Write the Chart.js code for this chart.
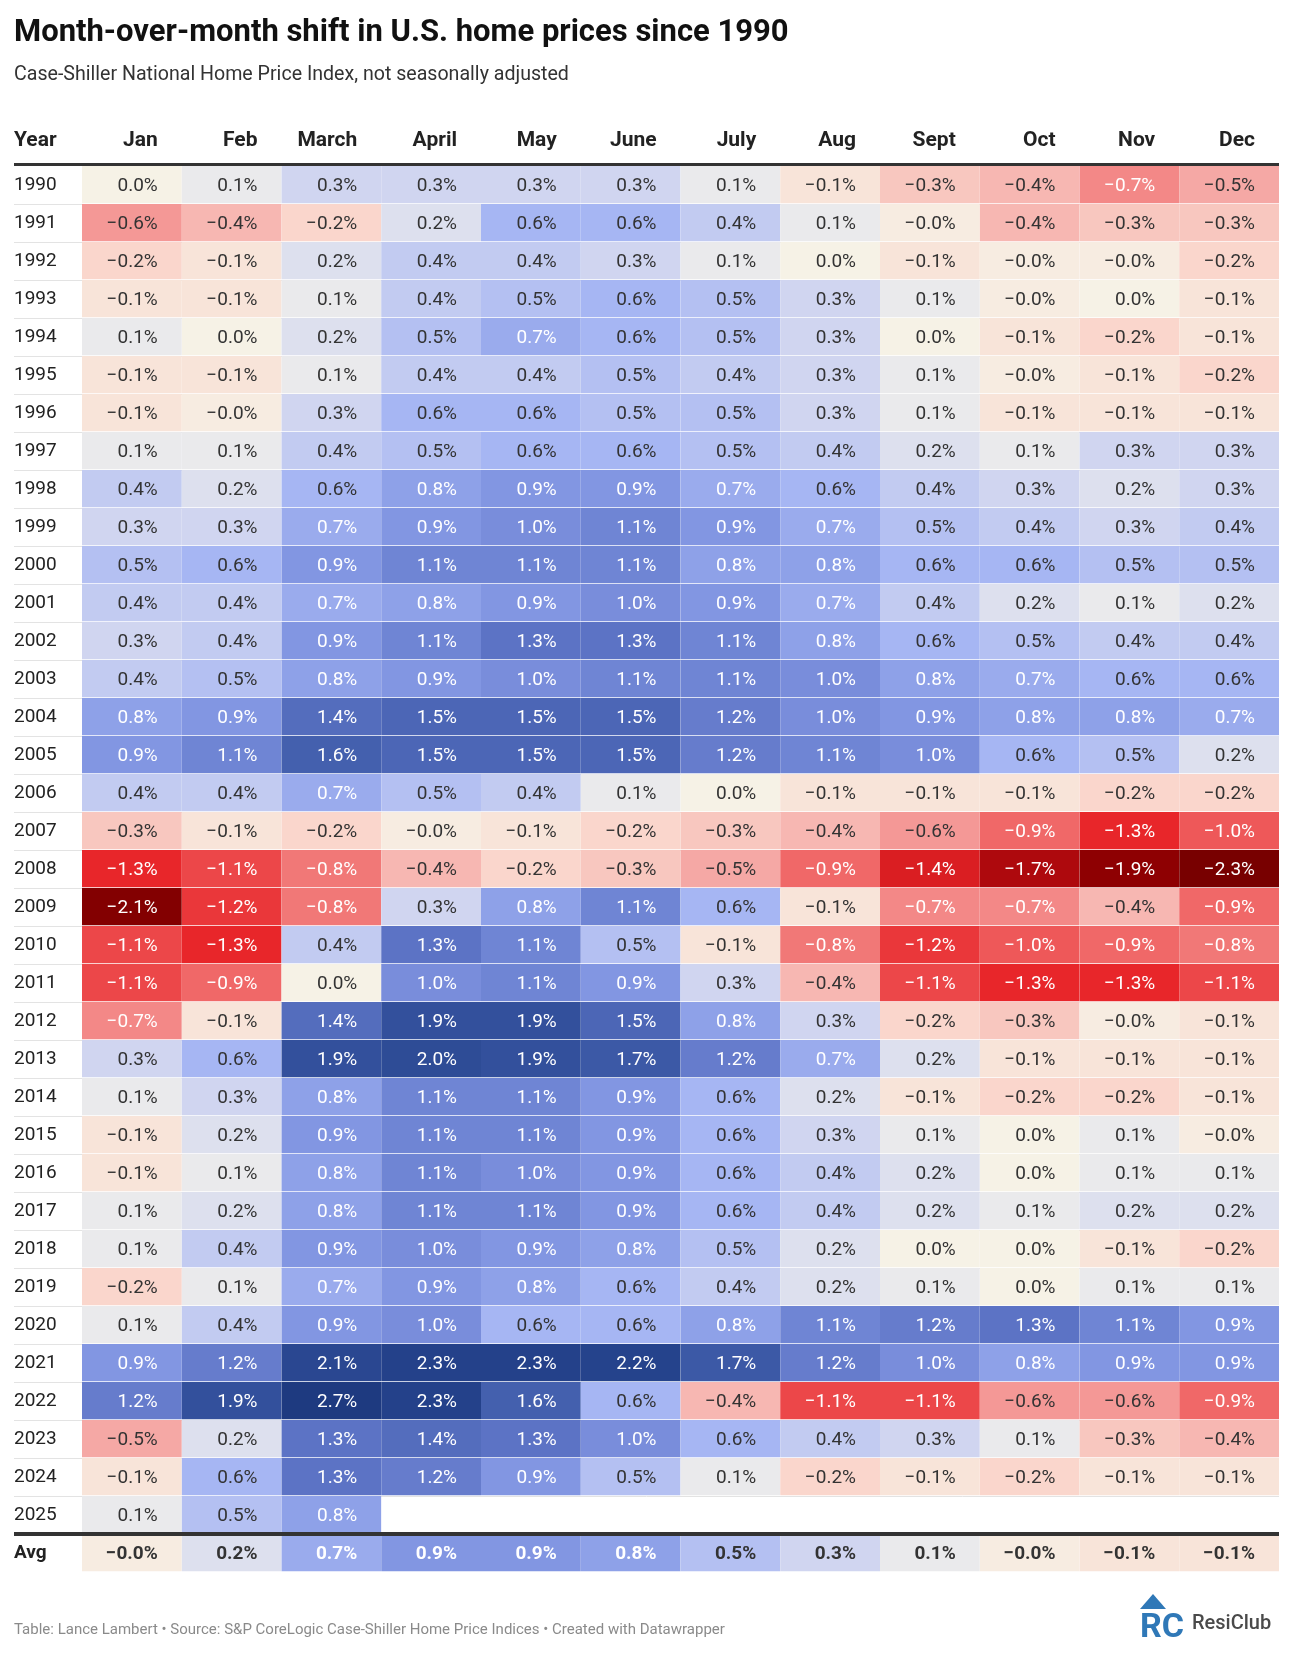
<!DOCTYPE html>
<html>
<head>
<meta charset="utf-8">
<script src="https://cdn.jsdelivr.net/npm/chart.js@4.4.1/dist/chart.umd.min.js"></script>
<style>
  body { margin: 0; background: #fff; }
  #wrap { width: 1292px; height: 1654px; position: relative; }
</style>
</head>
<body>
<div id="wrap"><canvas id="heat"></canvas></div>
<script>
const months = ['Jan', 'Feb', 'March', 'April', 'May', 'June', 'July', 'Aug', 'Sept', 'Oct', 'Nov', 'Dec'];
const years = ['1990', '1991', '1992', '1993', '1994', '1995', '1996', '1997', '1998', '1999',
  '2000', '2001', '2002', '2003', '2004', '2005', '2006', '2007', '2008', '2009',
  '2010', '2011', '2012', '2013', '2014', '2015', '2016', '2017', '2018', '2019',
  '2020', '2021', '2022', '2023', '2024', '2025'];

// month-over-month change, % ("-0.0" read as a small negative)
const v1990 = [0.0, 0.1, 0.3, 0.3, 0.3, 0.3, 0.1, -0.1, -0.3, -0.4, -0.7, -0.5];
const v1991 = [-0.6, -0.4, -0.2, 0.2, 0.6, 0.6, 0.4, 0.1, -0.04, -0.4, -0.3, -0.3];
const v1992 = [-0.2, -0.1, 0.2, 0.4, 0.4, 0.3, 0.1, 0.0, -0.1, -0.04, -0.04, -0.2];
const v1993 = [-0.1, -0.1, 0.1, 0.4, 0.5, 0.6, 0.5, 0.3, 0.1, -0.04, 0.0, -0.1];
const v1994 = [0.1, 0.0, 0.2, 0.5, 0.7, 0.6, 0.5, 0.3, 0.0, -0.1, -0.2, -0.1];
const v1995 = [-0.1, -0.1, 0.1, 0.4, 0.4, 0.5, 0.4, 0.3, 0.1, -0.04, -0.1, -0.2];
const v1996 = [-0.1, -0.04, 0.3, 0.6, 0.6, 0.5, 0.5, 0.3, 0.1, -0.1, -0.1, -0.1];
const v1997 = [0.1, 0.1, 0.4, 0.5, 0.6, 0.6, 0.5, 0.4, 0.2, 0.1, 0.3, 0.3];
const v1998 = [0.4, 0.2, 0.6, 0.8, 0.9, 0.9, 0.7, 0.6, 0.4, 0.3, 0.2, 0.3];
const v1999 = [0.3, 0.3, 0.7, 0.9, 1.0, 1.1, 0.9, 0.7, 0.5, 0.4, 0.3, 0.4];
const v2000 = [0.5, 0.6, 0.9, 1.1, 1.1, 1.1, 0.8, 0.8, 0.6, 0.6, 0.5, 0.5];
const v2001 = [0.4, 0.4, 0.7, 0.8, 0.9, 1.0, 0.9, 0.7, 0.4, 0.2, 0.1, 0.2];
const v2002 = [0.3, 0.4, 0.9, 1.1, 1.3, 1.3, 1.1, 0.8, 0.6, 0.5, 0.4, 0.4];
const v2003 = [0.4, 0.5, 0.8, 0.9, 1.0, 1.1, 1.1, 1.0, 0.8, 0.7, 0.6, 0.6];
const v2004 = [0.8, 0.9, 1.4, 1.5, 1.5, 1.5, 1.2, 1.0, 0.9, 0.8, 0.8, 0.7];
const v2005 = [0.9, 1.1, 1.6, 1.5, 1.5, 1.5, 1.2, 1.1, 1.0, 0.6, 0.5, 0.2];
const v2006 = [0.4, 0.4, 0.7, 0.5, 0.4, 0.1, 0.0, -0.1, -0.1, -0.1, -0.2, -0.2];
const v2007 = [-0.3, -0.1, -0.2, -0.04, -0.1, -0.2, -0.3, -0.4, -0.6, -0.9, -1.3, -1.0];
const v2008 = [-1.3, -1.1, -0.8, -0.4, -0.2, -0.3, -0.5, -0.9, -1.4, -1.7, -1.9, -2.3];
const v2009 = [-2.1, -1.2, -0.8, 0.3, 0.8, 1.1, 0.6, -0.1, -0.7, -0.7, -0.4, -0.9];
const v2010 = [-1.1, -1.3, 0.4, 1.3, 1.1, 0.5, -0.1, -0.8, -1.2, -1.0, -0.9, -0.8];
const v2011 = [-1.1, -0.9, 0.0, 1.0, 1.1, 0.9, 0.3, -0.4, -1.1, -1.3, -1.3, -1.1];
const v2012 = [-0.7, -0.1, 1.4, 1.9, 1.9, 1.5, 0.8, 0.3, -0.2, -0.3, -0.04, -0.1];
const v2013 = [0.3, 0.6, 1.9, 2.0, 1.9, 1.7, 1.2, 0.7, 0.2, -0.1, -0.1, -0.1];
const v2014 = [0.1, 0.3, 0.8, 1.1, 1.1, 0.9, 0.6, 0.2, -0.1, -0.2, -0.2, -0.1];
const v2015 = [-0.1, 0.2, 0.9, 1.1, 1.1, 0.9, 0.6, 0.3, 0.1, 0.0, 0.1, -0.04];
const v2016 = [-0.1, 0.1, 0.8, 1.1, 1.0, 0.9, 0.6, 0.4, 0.2, 0.0, 0.1, 0.1];
const v2017 = [0.1, 0.2, 0.8, 1.1, 1.1, 0.9, 0.6, 0.4, 0.2, 0.1, 0.2, 0.2];
const v2018 = [0.1, 0.4, 0.9, 1.0, 0.9, 0.8, 0.5, 0.2, 0.0, 0.0, -0.1, -0.2];
const v2019 = [-0.2, 0.1, 0.7, 0.9, 0.8, 0.6, 0.4, 0.2, 0.1, 0.0, 0.1, 0.1];
const v2020 = [0.1, 0.4, 0.9, 1.0, 0.6, 0.6, 0.8, 1.1, 1.2, 1.3, 1.1, 0.9];
const v2021 = [0.9, 1.2, 2.1, 2.3, 2.3, 2.2, 1.7, 1.2, 1.0, 0.8, 0.9, 0.9];
const v2022 = [1.2, 1.9, 2.7, 2.3, 1.6, 0.6, -0.4, -1.1, -1.1, -0.6, -0.6, -0.9];
const v2023 = [-0.5, 0.2, 1.3, 1.4, 1.3, 1.0, 0.6, 0.4, 0.3, 0.1, -0.3, -0.4];
const v2024 = [-0.1, 0.6, 1.3, 1.2, 0.9, 0.5, 0.1, -0.2, -0.1, -0.2, -0.1, -0.1];
const v2025 = [0.1, 0.5, 0.8];
const avg = [-0.04, 0.2, 0.7, 0.9, 0.9, 0.8, 0.5, 0.3, 0.1, -0.04, -0.1, -0.1];

const rows = [v1990, v1991, v1992, v1993, v1994, v1995, v1996, v1997, v1998, v1999,
  v2000, v2001, v2002, v2003, v2004, v2005, v2006, v2007, v2008, v2009,
  v2010, v2011, v2012, v2013, v2014, v2015, v2016, v2017, v2018, v2019,
  v2020, v2021, v2022, v2023, v2024, v2025, avg];
const rowLabels = years.concat(['Avg']);

// diverging colour ramp, red (falling) -> cream -> blue (rising)
const stops = [
  [-2.3, [120, 0, 0]],
  [-1.9, [142, 0, 2]],
  [-1.6, [190, 14, 18]],
  [-1.3, [232, 38, 42]],
  [-0.9, [240, 104, 104]],
  [-0.5, [245, 168, 165]],
  [-0.2, [250, 214, 204]],
  [0, [246, 242, 230]],
  [0.1, [234, 234, 236]],
  [0.3, [208, 213, 240]],
  [0.6, [166, 182, 243]],
  [0.9, [130, 150, 226]],
  [1.3, [92, 115, 197]],
  [1.7, [60, 89, 166]],
  [2.2, [37, 67, 140]],
  [2.7, [30, 58, 128]]
];

function rampColor(v) {
  if (v <= stops[0][0]) return stops[0][1];
  for (let i = 1; i < stops.length; i++) {
    if (v <= stops[i][0]) {
      const [a, ca] = stops[i - 1], [b, cb] = stops[i];
      const t = (v - a) / (b - a);
      return ca.map((c, k) => Math.round(c + (cb[k] - c) * t));
    }
  }
  return stops[stops.length - 1][1];
}
const css = c => `rgb(${c[0]},${c[1]},${c[2]})`;
const isDark = c => 0.299 * c[0] + 0.587 * c[1] + 0.114 * c[2] < 176;
const fmt = v => v.toFixed(1).replace('-', '\u2212') + '%';

// one floating bar per cell
const cells = [];
rows.forEach((r, i) => {
  r.forEach((v, j) => {
    cells.push({ x: [j, j + 1], y: rowLabels[i], v: v });
  });
});

const FONT = 'Roboto';
const HEADER_Y = 141;

const tablePlugin = {
  id: 'tableDeco',
  beforeDatasetsDraw(chart) {
    const { ctx, scales: { x, y } } = chart;
    ctx.save();
    ctx.strokeStyle = '#e3e3e3';
    ctx.lineWidth = 1;
    for (let i = 1; i < rowLabels.length - 1; i++) {
      const yy = Math.round((y.getPixelForValue(i - 1) + y.getPixelForValue(i)) / 2) + 0.5;
      ctx.beginPath();
      ctx.moveTo(14, yy);
      ctx.lineTo(x.right, yy);
      ctx.stroke();
    }
    ctx.restore();
  },
  afterDatasetsDraw(chart) {
    const { ctx, scales: { x, y } } = chart;
    const meta = chart.getDatasetMeta(0);
    ctx.save();
    ctx.textAlign = 'right';
    ctx.textBaseline = 'middle';
    meta.data.forEach((el, k) => {
      const c = cells[k];
      const right = Math.max(el.x, el.base);
      const col = rampColor(c.v);
      const bold = c.y === 'Avg';
      ctx.font = (bold ? 'bold ' : '') + '19px ' + FONT;
      ctx.fillStyle = isDark(col) ? '#ffffff' : '#333333';
      ctx.fillText(fmt(c.v), right - 24, el.y + 1);
    });
    // heavy rules under header and above the average row
    ctx.fillStyle = '#333333';
    ctx.fillRect(14, chart.chartArea.top - 3, x.right - 14, 3);
    const yAvg = (y.getPixelForValue(rowLabels.length - 2) + y.getPixelForValue(rowLabels.length - 1)) / 2;
    ctx.fillRect(14, Math.round(yAvg) - 2, x.right - 14, 4);
    ctx.restore();
  },
  afterDraw(chart) {
    const { ctx } = chart;
    ctx.save();
    ctx.textAlign = 'left';
    ctx.textBaseline = 'middle';
    ctx.fillStyle = '#222222';
    ctx.font = 'bold 21px ' + FONT;
    ctx.fillText('Year', 14, HEADER_Y);
    ctx.fillStyle = '#111111';
    ctx.font = 'bold 31px ' + FONT;
    ctx.fillText('Month-over-month shift in U.S. home prices since 1990', 14, 33);
    ctx.fillStyle = '#333333';
    ctx.font = '19.6px ' + FONT;
    ctx.fillText('Case-Shiller National Home Price Index, not seasonally adjusted', 14, 75);
    ctx.fillStyle = '#8a8a8a';
    ctx.font = '15px ' + FONT;
    ctx.fillText('Table: Lance Lambert \u2022 Source: S&P CoreLogic Case-Shiller Home Price Indices \u2022 Created with Datawrapper', 14, 1630);
    // ResiClub mark
    ctx.fillStyle = '#2f78b7';
    ctx.beginPath();
    ctx.moveTo(1153, 1594);
    ctx.lineTo(1166, 1609);
    ctx.lineTo(1140, 1609);
    ctx.closePath();
    ctx.fill();
    ctx.font = 'bold 34px ' + FONT;
    ctx.fillText('RC', 1140, 1628);
    ctx.fillStyle = '#4a4a4a';
    ctx.font = '500 20px ' + FONT;
    ctx.fillText('ResiClub', 1192, 1624);
    ctx.restore();
  }
};

new Chart(document.getElementById('heat'), {
  type: 'bar',
  data: {
    labels: rowLabels,
    datasets: [{
      data: cells,
      backgroundColor: c => c.raw ? css(rampColor(c.raw.v)) : '#fff',
      borderColor: 'rgba(255,255,255,0.45)',
      borderWidth: { top: 0, left: 0, right: 0, bottom: 1 },
      borderSkipped: false,
      barPercentage: 1,
      categoryPercentage: 1,
      grouped: false
    }]
  },
  options: {
    indexAxis: 'y',
    responsive: true,
    maintainAspectRatio: false,
    animation: false,
    events: [],
    layout: { padding: { top: 100, left: 14, right: 13, bottom: 82 } },
    plugins: { legend: { display: false }, tooltip: { enabled: false } },
    scales: {
      x: {
        type: 'linear',
        position: 'top',
        min: 0,
        max: 12,
        afterBuildTicks: s => { s.ticks = months.map((m, i) => ({ value: i + 1 })); },
        afterFit: s => { s.height = 66; },
        grid: { display: false },
        border: { display: false },
        ticks: {
          callback: (v, i) => months[i],
          align: 'end',
          labelOffset: -24,
          padding: 5,
          maxRotation: 0,
          autoSkip: false,
          color: '#222',
          font: { family: FONT, size: 21, weight: 'bold' }
        }
      },
      y: {
        type: 'category',
        offset: true,
        afterFit: s => { s.width = 68; },
        grid: { display: false },
        border: { display: false },
        ticks: {
          crossAlign: 'far',
          autoSkip: false,
          padding: 0,
          color: '#222',
          font: c => ({ family: FONT, size: 19, weight: c.index === rowLabels.length - 1 ? 'bold' : 'normal' })
        }
      }
    }
  },
  plugins: [tablePlugin]
});
</script>
</body>
</html>
